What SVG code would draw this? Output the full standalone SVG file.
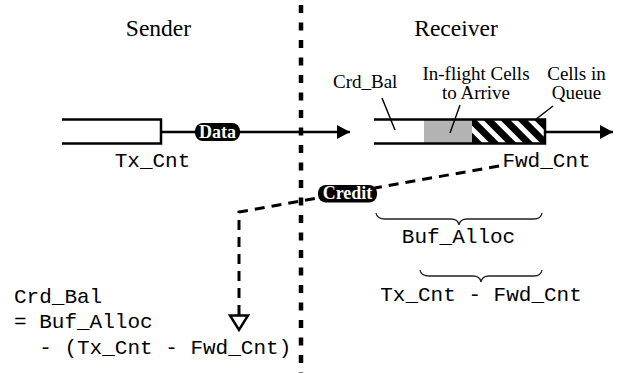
<svg xmlns="http://www.w3.org/2000/svg" width="618" height="373" viewBox="0 0 618 373">
  <style>
    .title { font-family: "Liberation Serif", "Times New Roman", serif; font-size: 23.5px; fill: #000; }
    .note { font-family: "Liberation Serif", "Times New Roman", serif; font-size: 19px; fill: #000; }
    .mono { font-family: "Liberation Mono", "Courier New", monospace; font-size: 21px; fill: #000; }
    .pill { fill: #000; }
    .pilltext { font-family: "Liberation Serif", "Times New Roman", serif; font-size: 18px; font-weight: bold; fill: #fff; text-anchor: middle; }
    .thick { fill: none; stroke: #000; stroke-width: 2.5; }
    .thin { fill: none; stroke: #000; stroke-width: 1.4; }
    .brace { fill: none; stroke: #222; stroke-width: 1.3; }
    .dash { fill: none; stroke: #000; stroke-width: 3; stroke-dasharray: 10 7; }
    .boundary { fill: none; stroke: #000; stroke-width: 4.5; stroke-dasharray: 8 9.5; }
  </style>
  <defs>
    <pattern id="hatch" patternUnits="userSpaceOnUse" width="12" height="12" patternTransform="rotate(-45)">
      <rect x="0" y="0" width="12" height="12" fill="#000"/>
      <rect x="0" y="0" width="5" height="12" fill="#fff"/>
    </pattern>
    <marker id="solidHead" markerWidth="14" markerHeight="16" refX="13" refY="8" orient="auto" markerUnits="userSpaceOnUse">
      <path d="M0,1 L13,8 L0,15 Z" fill="#000"/>
    </marker>
  </defs>

  <!-- side titles -->
  <text class="title" x="158.5" y="36" text-anchor="middle">Sender</text>
  <text class="title" x="456" y="36" text-anchor="middle">Receiver</text>

  <!-- sender/receiver boundary -->
  <line class="boundary" x1="301" y1="5" x2="301" y2="373"/>

  <!-- sender transmit buffer -->
  <g id="sender-buffer">
    <path class="thick" d="M62,119.5 H161 V143.5 H62"/>
    <text class="mono" x="152.5" y="167" text-anchor="middle">Tx_Cnt</text>
  </g>

  <!-- receiver buffer -->
  <g id="receiver-buffer">
    <rect x="424" y="119.5" width="48" height="24" fill="#b3b3b3"/>
    <rect x="472" y="119.5" width="73" height="24" fill="url(#hatch)"/>
    <path class="thick" d="M374,119.5 H545 V143.5 H374"/>
    <text class="mono" x="546.5" y="167" text-anchor="middle">Fwd_Cnt</text>
  </g>

  <!-- buffer region labels -->
  <g id="labels">
    <text class="note" x="333" y="88">Crd_Bal</text>
    <text class="note" x="476" y="80" text-anchor="middle">In-flight Cells</text>
    <text class="note" x="476" y="99" text-anchor="middle">to Arrive</text>
    <text class="note" x="576.5" y="80" text-anchor="middle">Cells in</text>
    <text class="note" x="576.5" y="99" text-anchor="middle">Queue</text>
    <line class="thin" x1="382" y1="98" x2="395" y2="130"/>
    <line class="thin" x1="460" y1="105" x2="450" y2="133"/>
    <line class="thin" x1="553" y1="106" x2="535" y2="120"/>
  </g>

  <!-- braces -->
  <g id="buf-alloc">
    <path class="brace" d="M376,213 Q377,219 385,219 L451,219 Q458,219 459,225 Q460,219 467,219 L534,219 Q541,219 542,213"/>
    <text class="mono" x="458.5" y="243" text-anchor="middle">Buf_Alloc</text>
  </g>
  <g id="in-flight-count">
    <path class="brace" d="M420,270 Q421,276 429,276 L473,276 Q480,276 481,282 Q482,276 489,276 L534,276 Q541,276 542,270"/>
    <text class="mono" x="481" y="301" text-anchor="middle">Tx_Cnt - Fwd_Cnt</text>
  </g>

  <!-- credit balance formula -->
  <g id="formula">
    <text class="mono" x="14" y="303">Crd_Bal</text>
    <text class="mono" x="14" y="328">= Buf_Alloc</text>
    <text class="mono" x="39.2" y="354">- (Tx_Cnt - Fwd_Cnt)</text>
  </g>

  <!-- connectors -->
  <g id="connectors">
    <line class="thick" x1="161" y1="132" x2="350" y2="132" marker-end="url(#solidHead)"/>
    <line class="thick" x1="545" y1="132" x2="613" y2="132" marker-end="url(#solidHead)"/>
    <path class="dash" d="M499,166 L239,212 V315"/>
    <path d="M230,315.5 H248 L239,330 Z" fill="#fff" stroke="#000" stroke-width="2.5" stroke-linejoin="miter"/>
  </g>

  <!-- message tags -->
  <g id="data-tag">
    <rect class="pill" x="195" y="123" width="45" height="18" rx="8"/>
    <text class="pilltext" x="217.5" y="137.5">Data</text>
  </g>
  <g id="credit-tag">
    <rect class="pill" x="318" y="185" width="59" height="17.5" rx="8"/>
    <text class="pilltext" x="347.5" y="199">Credit</text>
  </g>
</svg>
